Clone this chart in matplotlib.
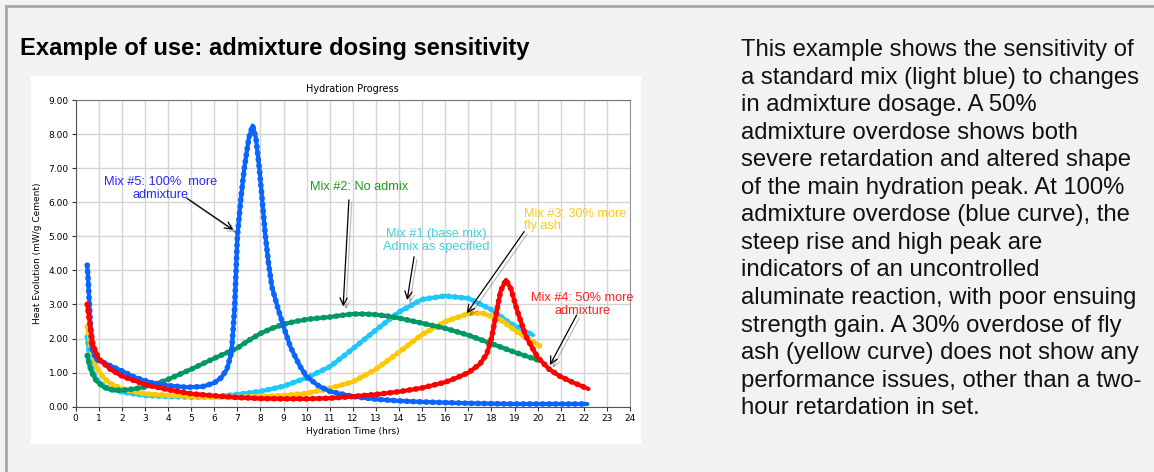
import matplotlib
matplotlib.use("Agg")
import matplotlib.pyplot as plt
import matplotlib.patheffects as pe
from matplotlib.patches import Rectangle
from matplotlib.lines import Line2D

# --- data (hours, mW/g cement) ---
mix5_h = [0.5, 0.55, 0.62, 0.7, 0.9, 1.2, 1.5, 2.0, 2.6, 3.3, 4.0, 4.8, 5.5, 6.0, 6.3, 6.55,
          6.75, 6.88, 7.0, 7.15, 7.3, 7.5, 7.66, 7.8, 7.95, 8.07, 8.2, 8.35, 8.5, 8.75, 9.0,
          9.3, 9.7, 10.0, 10.5, 11.0, 12.0, 13.0, 14.0, 15.0, 16.0, 17.0, 18.0, 19.0, 20.0,
          21.0, 22.15]
mix5_v = [4.15, 3.6, 2.6, 1.7, 1.38, 1.3, 1.2, 1.05, 0.85, 0.7, 0.62, 0.57, 0.59, 0.7, 0.85,
          1.1, 1.6, 2.9, 5.0, 6.1, 7.0, 7.9, 8.25, 7.9, 7.0, 6.1, 5.1, 4.2, 3.5, 2.9, 2.35,
          1.75, 1.2, 0.88, 0.62, 0.45, 0.3, 0.22, 0.17, 0.14, 0.12, 0.1, 0.09, 0.08, 0.08,
          0.08, 0.08]

mix2_h = [0.5, 0.6, 0.7, 0.9, 1.2, 1.5, 2.0, 2.5, 3.0, 3.5, 4.0, 5.0, 6.0, 7.0, 7.5, 8.0, 8.5,
          9.0, 9.5, 10.0, 10.5, 11.0, 11.5, 12.0, 12.5, 13.0, 13.5, 14.0, 15.0, 16.0, 17.0,
          18.0, 19.0, 20.1]
mix2_v = [1.5, 1.2, 1.0, 0.75, 0.58, 0.5, 0.48, 0.52, 0.58, 0.68, 0.8, 1.1, 1.42, 1.72, 1.95,
          2.15, 2.3, 2.42, 2.5, 2.56, 2.6, 2.63, 2.68, 2.72, 2.72, 2.7, 2.66, 2.6, 2.45, 2.3,
          2.1, 1.85, 1.6, 1.35]

mix1_h = [0.5, 0.6, 0.7, 0.9, 1.2, 1.5, 2.0, 3.0, 4.0, 5.0, 6.0, 7.0, 8.0, 9.0, 10.0, 11.0,
          12.0, 13.0, 14.0, 15.0, 16.0, 17.0, 18.0, 18.8, 19.8]
mix1_v = [2.05, 1.5, 1.1, 0.8, 0.62, 0.52, 0.43, 0.33, 0.3, 0.28, 0.29, 0.36, 0.45, 0.6, 0.85,
          1.17, 1.7, 2.25, 2.78, 3.15, 3.25, 3.18, 2.85, 2.45, 2.1]

mix3_h = [0.5, 0.6, 0.7, 0.9, 1.2, 1.5, 2.0, 3.0, 4.0, 5.0, 6.0, 7.0, 8.0, 9.0, 10.0, 11.0,
          12.0, 13.0, 14.0, 15.0, 16.0, 17.0, 17.6, 18.4, 19.1, 20.1]
mix3_v = [2.35, 2.0, 1.6, 1.15, 0.85, 0.68, 0.52, 0.38, 0.33, 0.3, 0.28, 0.28, 0.3, 0.33, 0.39,
          0.54, 0.73, 1.1, 1.6, 2.12, 2.5, 2.73, 2.75, 2.55, 2.2, 1.78]

mix4_h = [0.5, 0.6, 0.75, 1.0, 1.5, 2.0, 3.0, 4.0, 5.0, 6.0, 7.0, 8.0, 9.0, 10.0, 11.0, 12.0,
          13.0, 14.0, 15.0, 16.0, 16.5, 17.0, 17.5, 17.8, 18.0, 18.2, 18.4, 18.63, 18.85, 19.1,
          19.5, 20.0, 20.5, 21.0, 21.5, 22.2]
mix4_v = [3.0, 2.5, 1.8, 1.4, 1.1, 0.9, 0.65, 0.5, 0.38, 0.32, 0.27, 0.24, 0.23, 0.23, 0.25,
          0.3, 0.36, 0.44, 0.55, 0.72, 0.85, 1.0, 1.25, 1.55, 2.0, 2.7, 3.4, 3.72, 3.45, 2.85,
          2.05, 1.45, 1.1, 0.88, 0.72, 0.52]

x_ticks = list(range(0, 25))
y_ticks = list(range(0, 10))

paragraph = [
    "This example shows the sensitivity of",
    "a standard mix (light blue) to changes",
    "in admixture dosage. A 50%",
    "admixture overdose shows both",
    "severe retardation and altered shape",
    "of the main hydration peak. At 100%",
    "admixture overdose (blue curve), the",
    "steep rise and high peak are",
    "indicators of an uncontrolled",
    "aluminate reaction, with poor ensuing",
    "strength gain. A 30% overdose of fly",
    "ash (yellow curve) does not show any",
    "performance issues, other than a two-",
    "hour retardation in set.",
]

W, H = 1154, 472
fig = plt.figure(figsize=(W / 100, H / 100), dpi=100, facecolor="#f2f2f2")


def fx(px):
    return px / W


def fy(py):
    return 1 - py / H


# outer panel border (left + top)
fig.add_artist(Line2D([fx(6), fx(6)], [0, fy(6)], color="#a8a8a8", lw=2, zorder=-2))
fig.add_artist(Line2D([fx(6), 1], [fy(6), fy(6)], color="#a8a8a8", lw=2, zorder=-2))

fig.text(fx(20), fy(55), "Example of use: admixture dosing sensitivity",
         fontsize=17.1, fontweight="bold", family="Liberation Sans", va="baseline")

for i, line in enumerate(paragraph):
    fig.text(fx(741), fy(56 + i * 27.56), line, fontsize=17.2,
             family="Liberation Sans", va="baseline", color="#111111")

# white chart panel
fig.add_artist(Rectangle((fx(31), fy(444)), fx(610), 368 / H,
                         transform=fig.transFigure, facecolor="white", edgecolor="none",
                         zorder=-1))

ax = fig.add_axes([fx(75.7), fy(406.7), fx(630 - 75.7), (406.7 - 100) / H])
ax.set_facecolor("white")
ax.set_xlim(0, 24)
ax.set_ylim(0, 9)
ax.set_xticks(x_ticks)
ax.set_yticks(y_ticks)
ax.set_xticklabels([str(t) for t in x_ticks])
ax.set_yticklabels(["%.2f" % t for t in y_ticks])
ax.tick_params(labelsize=6.5, length=3, width=0.8, color="#333333", pad=2)
ax.grid(True, color="#d4d4d4", lw=1.0)
ax.set_axisbelow(True)
for s in ["left", "bottom"]:
    ax.spines[s].set_color("#555555")
ax.spines["top"].set_color("#777777")
ax.spines["right"].set_color("#999999")

ax.set_title("Hydration Progress", fontsize=7, pad=6)
ax.set_xlabel("Hydration Time (hrs)", fontsize=6.5, labelpad=3)
ax.set_ylabel("Heat Evolution (mW/g Cement)", fontsize=6.5, labelpad=5)


def curve(h, v, color, z):
    ax.plot(h, v, color=color, lw=3.0, solid_capstyle="round", solid_joinstyle="round",
            zorder=z)
    ax.plot(h, v, color=color, lw=4.2, linestyle=(0, (0.01, 1.1)),
            dash_capstyle="round", zorder=z)


curve(mix1_h, mix1_v, "#1ec8ff", 3)
curve(mix3_h, mix3_v, "#ffc800", 4)
curve(mix2_h, mix2_v, "#009966", 5)
curve(mix5_h, mix5_v, "#0a64ff", 6)
curve(mix4_h, mix4_v, "#ff0000", 7)

shadow = [pe.SimpleLineShadow(offset=(2, -2), alpha=0.25), pe.Normal()]


def arrow(tail, head):
    a = ax.annotate("", xy=head, xytext=tail,
                    arrowprops=dict(arrowstyle="->", color="black", lw=0.9,
                                    mutation_scale=13, shrinkA=0, shrinkB=0),
                    zorder=10)
    a.arrow_patch.set_path_effects(shadow)


lab = dict(fontsize=9.2, family="Liberation Sans", va="center", zorder=10, linespacing=1.08)
ax.text(3.66, 6.41, "Mix #5: 100%  more\nadmixture", color="#2828ff", ha="center", **lab)
arrow((4.81, 6.12), (6.82, 5.19))

ax.text(10.14, 6.45, "Mix #2: No admix", color="#229922", ha="left", **lab)
arrow((11.83, 6.07), (11.58, 2.94))

ax.text(15.6, 4.88, "Mix #1 (base mix)\nAdmix as specified", color="#45cfe0", ha="center",
        **lab)
arrow((14.65, 4.40), (14.35, 3.13))

ax.text(19.42, 5.48, "Mix #3: 30% more\nfly ash", color="#ffc820", ha="left", **lab)
arrow((19.42, 5.14), (16.93, 2.74))

ax.text(21.95, 3.0, "Mix #4: 50% more\nadmixture", color="#ff2020", ha="center", **lab)
arrow((21.69, 2.69), (20.53, 1.22))

fig.savefig("out.png", dpi=100, facecolor=fig.get_facecolor())
